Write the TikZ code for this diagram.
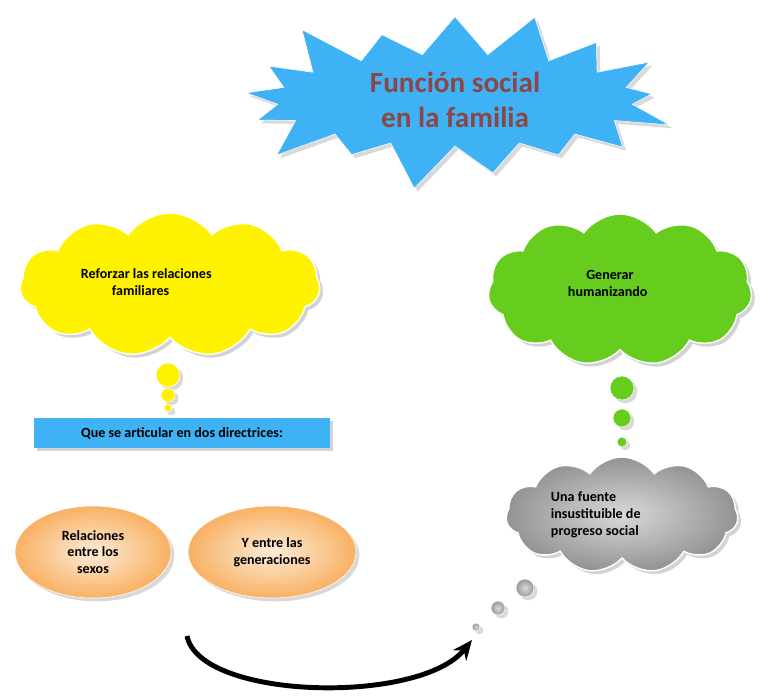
\documentclass[tikz,border=0pt]{standalone}
\usepackage{fontspec}
\setmainfont{Carlito}
\usetikzlibrary{shapes.symbols,shapes.geometric,shadows,arrows.meta}
\definecolor{skyb}{HTML}{3FB2F5}
\definecolor{titlec}{HTML}{8C4646}
\definecolor{yel}{HTML}{FFF200}
\definecolor{grn}{HTML}{66CC1E}
\definecolor{org}{HTML}{F8B163}
\tikzset{
  thought/.style={cloud,cloud puffs=11,cloud puff arc=110,aspect=2,draw=white,line width=1pt,drop shadow={opacity=0.35},font=\bfseries,align=center},
  bubble/.style={circle,inner sep=0pt,draw=white,drop shadow={opacity=0.3}},
  oval/.style={ellipse,draw=white,inner color=org!25,outer color=org,drop shadow={opacity=0.3},font=\bfseries,align=center},
}
\begin{document}
\begin{tikzpicture}[x=0.025cm,y=-0.025cm]
\useasboundingbox (0,0) rectangle (774,698);
% title
\node (title) [starburst,starburst points=17,starburst point height=1.3cm,fill=skyb,draw=white,minimum width=11.5cm,minimum height=4.7cm,font=\bfseries\huge,text=titlec,align=center,drop shadow={opacity=0.3}] at (455,100) {Función social\\ en la familia};
% left branch
\node (refor) [thought,fill=yel,minimum width=7.5cm,minimum height=3.6cm] at (170,285) {};
\node [font=\bfseries,align=left,anchor=west] at (76,282) {Reforzar las relaciones\\ \hspace*{2.2em}familiares};
\node (y1) [bubble,fill=yel,minimum size=0.6cm] at (168,375) {};
\node (y2) [bubble,fill=yel,minimum size=0.35cm] at (168,395) {};
\node (y3) [bubble,fill=yel,minimum size=0.2cm] at (168,408) {};
\node (dir) [fill=skyb,minimum width=7.4cm,minimum height=0.75cm,font=\bfseries,drop shadow={opacity=0.35}] at (182,433) {Que se articular en dos directrices:};
\node (sexos) [oval,minimum width=3.9cm,minimum height=2.3cm] at (93,552) {Relaciones\\ entre los\\ sexos};
\node (gener) [oval,minimum width=4.2cm,minimum height=2.3cm] at (272,552) {Y entre las\\ generaciones};
% right branch
\node (human) [thought,fill=grn,minimum width=6.6cm,minimum height=3.8cm] at (620,290) {};
\node [font=\bfseries,align=left,anchor=west] at (563,283) {\hspace*{1.3em}Generar\\ humanizando};
\node (g1) [bubble,fill=grn,minimum size=0.6cm] at (622,388) {};
\node (g2) [bubble,fill=grn,minimum size=0.45cm] at (622,418) {};
\node (g3) [bubble,fill=grn,minimum size=0.25cm] at (622,442) {};
\node (fuente) [thought,inner color=gray!30,outer color=gray!85,minimum width=5.8cm,minimum height=2.9cm] at (622,515) {};
\node [font=\bfseries,align=left,anchor=west] at (546,515) {Una fuente\\ insustituible de\\ progreso social};
\node (k1) [bubble,inner color=gray!30,outer color=gray!80,minimum size=0.45cm] at (525,588) {};
\node (k2) [bubble,inner color=gray!30,outer color=gray!80,minimum size=0.35cm] at (498,608) {};
\node (k3) [bubble,inner color=gray!30,outer color=gray!80,minimum size=0.2cm] at (476,627) {};
% arrow
\coordinate (a0) at (187,636);
\coordinate (a1) at (472,640);
\draw [line width=3.5pt,-{Stealth[length=14pt,width=12pt]}] (a0) .. controls (200,700) and (420,705) .. (a1);
\end{tikzpicture}
\end{document}
